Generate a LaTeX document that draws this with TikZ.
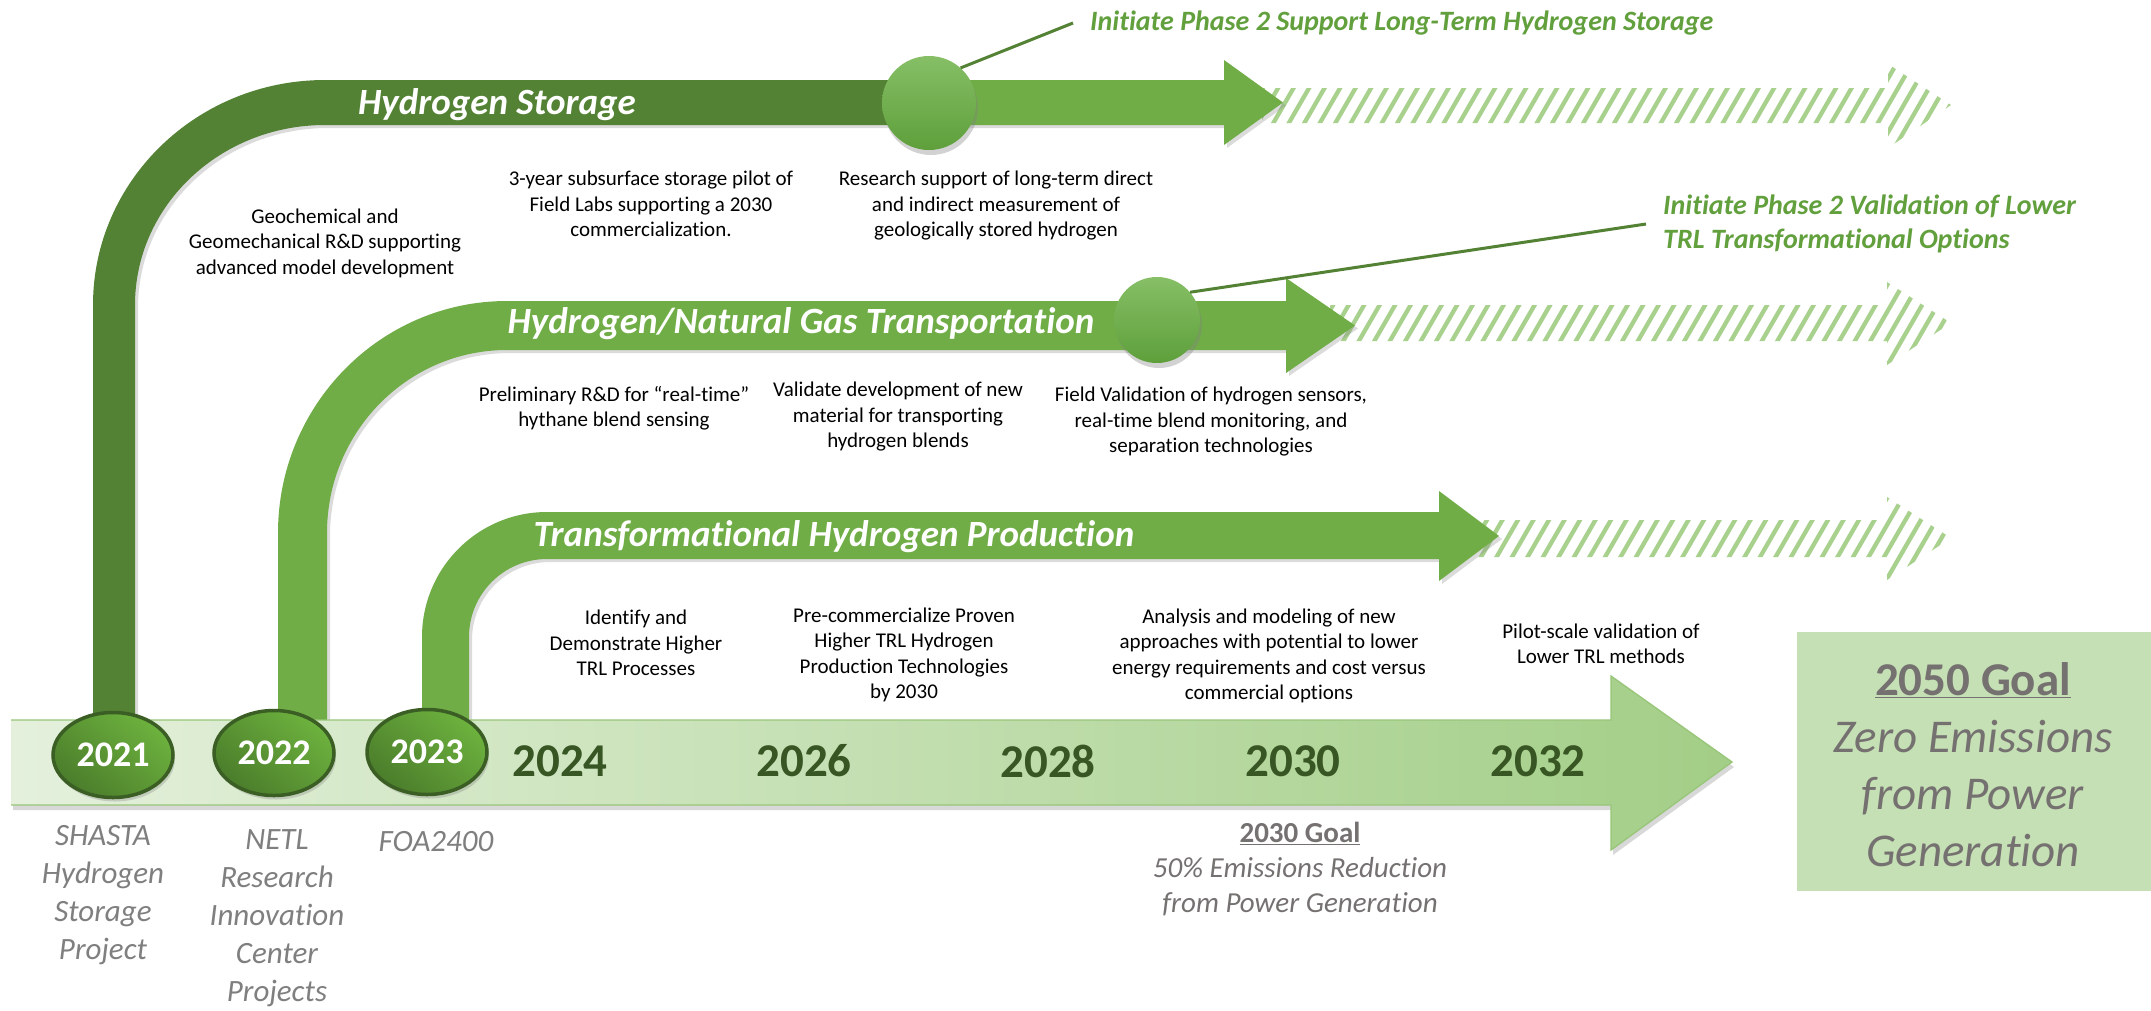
\documentclass[tikz,border=0pt]{standalone}
\usepackage{fontspec}
\setmainfont[Ligatures={NoCommon}]{Carlito}
\usetikzlibrary{shapes.geometric,shadows}
\definecolor{dkgreen}{HTML}{548235}
\definecolor{mdgreen}{HTML}{70AD47}
\definecolor{ltgreen}{HTML}{A9D18E}
\definecolor{yrgreen}{HTML}{375623}
\definecolor{boxgreen}{HTML}{C5E0B4}
\definecolor{goalgray}{HTML}{767171}
\definecolor{labgray}{HTML}{7F7F7F}
\definecolor{annogreen}{HTML}{62A03E}
\definecolor{circedge}{HTML}{3B5E25}
\definecolor{circtop}{HTML}{6DB23E}
\definecolor{circbot}{HTML}{4B7D2B}
\definecolor{mstop}{HTML}{86BF66}
\definecolor{msbot}{HTML}{5E9F3B}
\definecolor{barleft}{HTML}{E4F0DC}
\definecolor{barright}{HTML}{A3CE87}
\begin{document}
\begin{tikzpicture}[x=1pt,y=-1pt,
  bodytxt/.style={font=\fontsize{21}{25.5}\selectfont, align=center, inner sep=0pt, text=black},
  ttl/.style={font=\fontsize{37}{44}\selectfont\bfseries\itshape, text=white, inner sep=0pt},
  yearlab/.style={font=\fontsize{47}{56}\selectfont\bfseries, text=yrgreen, inner sep=0pt},
  yearcirc/.style={ellipse, minimum width=120pt, minimum height=85pt, inner sep=0pt, draw=circedge, line width=3.5pt, top color=circtop, bottom color=circbot, shading angle=-40, text=white, font=\fontsize{36}{40}\selectfont\bfseries, drop shadow={opacity=0.3, shadow xshift=2pt, shadow yshift=-4pt}},
  sublab/.style={font=\fontsize{31}{38}\selectfont\itshape, text=labgray, align=center, inner sep=0pt},
  annotxt/.style={font=\fontsize{28}{34}\selectfont\bfseries\itshape, text=annogreen, align=left, anchor=west, inner xsep=17pt, inner ysep=2pt},
  mstone/.style={circle, inner sep=0pt, top color=mstop, bottom color=msbot, drop shadow={opacity=0.35, shadow xshift=2pt, shadow yshift=-5pt}},
  armshadow/.style={drop shadow={opacity=0.28, shadow xshift=3pt, shadow yshift=-3pt}},
  hatchline/.style={draw=ltgreen, line width=4.3pt},
  annoline/.style={draw=dkgreen, line width=3pt}
]
\useasboundingbox (0,0) rectangle (2151,1010);
\fill[white] (0,0) rectangle (2151,1010);

% ---------- hatched continuation arrows ----------
\begin{scope}
\clip (1262,88) -- (1888,88) -- (1888,64) -- (1951,105) -- (1888,148) -- (1888,123) -- (1262,123) -- cycle;
\foreach \x in {1190,1205.5,...,1960} {\draw[hatchline] (\x,160) -- ++(60,-104);}
\end{scope}
\begin{scope}
\clip (1330,305) -- (1887,305) -- (1887,282) -- (1951,323) -- (1887,365) -- (1887,341) -- (1330,341) -- cycle;
\foreach \x in {1260,1275.5,...,1960} {\draw[hatchline] (\x,378) -- ++(60,-104);}
\end{scope}
\begin{scope}
\clip (1475,520) -- (1887,520) -- (1887,497) -- (1951,538) -- (1887,580) -- (1887,557) -- (1475,557) -- cycle;
\foreach \x in {1400,1415.5,...,1960} {\draw[hatchline] (\x,590) -- ++(60,-104);}
\end{scope}

% ---------- arms ----------
\fill[dkgreen, armshadow] (93,722) -- (93,305) .. controls (93,180.7) and (196.9,80) .. (325,80) -- (929,80) -- (929,125) -- (325,125) .. controls (220.1,125) and (135,205.6) .. (135,305) -- (135,722) -- cycle;
\fill[mdgreen, armshadow] (929,80) -- (1224,80) -- (1224,60) -- (1283,102.5) -- (1224,145) -- (1224,125) -- (929,125) -- cycle;
\fill[mdgreen, armshadow] (278,722) -- (278,533) .. controls (278,404.9) and (380.5,301) .. (507,301) -- (1286,301) -- (1286,278) -- (1355,325.5) -- (1286,373) -- (1286,350) -- (507,350) .. controls (407.6,350) and (327,431.9) .. (327,533) -- (327,722) -- cycle;
\fill[mdgreen, armshadow] (422,722) -- (422,637) .. controls (422,568) and (478,512) .. (547,512) -- (1439,512) -- (1439,491) -- (1499,536) -- (1439,581) -- (1439,559) -- (547,559) .. controls (503.9,559) and (469,593.9) .. (469,637) -- (469,722) -- cycle;

% ---------- timeline bar ----------
\path[left color=barleft, right color=barright, drop shadow={opacity=0.3, shadow xshift=2pt, shadow yshift=-5pt}]
  (11,720) -- (1611,720) -- (1611,676) -- (1732,762) -- (1611,850) -- (1611,805) -- (11,805) -- cycle;
\draw[ltgreen!70!mdgreen, line width=1.3pt, line join=miter]
  (11,720) -- (1611,720) -- (1611,676) -- (1732,762) -- (1611,850) -- (1611,805) -- (11,805);

% ---------- milestone circles on arms ----------
\node[mstone, minimum size=94pt] (ms1) at (929,103) {};
\node[mstone, minimum size=86pt] (ms2) at (1157,320) {};

% ---------- arm titles ----------
\node[ttl] (t1) at (497,105) {Hydrogen Storage};
\node[ttl] (t2) at (801,324) {Hydrogen/Natural Gas Transportation};
\node[ttl] (t3) at (834,537) {Transformational Hydrogen Production};

% ---------- annotations ----------
\node[annotxt] (an1) at (1073,23) {Initiate Phase 2 Support Long-Term Hydrogen Storage};
\node[annotxt] (an2) at (1646,224) {Initiate Phase 2 Validation of Lower\\TRL Transformational Options};
\draw[annoline] (ms1.48) -- (an1.west);
\draw[annoline] (ms2.40) -- (an2.west);

% ---------- body texts ----------
\node[bodytxt] (b1) at (325,243) {Geochemical and\\Geomechanical R\&D supporting\\advanced model development};
\node[bodytxt] (b2) at (651,204) {3-year subsurface storage pilot of\\Field Labs supporting a 2030\\commercialization.};
\node[bodytxt] (b3) at (996,206) {Research support of long-term direct\\and indirect measurement of\\geologically stored hydrogen};
\node[bodytxt] (b4) at (614,408) {Preliminary R\&D for “real-time”\\hythane blend sensing};
\node[bodytxt] (b5) at (898,417) {Validate development of new\\material for transporting\\hydrogen blends};
\node[bodytxt] (b6) at (1211,422) {Field Validation of hydrogen sensors,\\real-time blend monitoring, and\\separation technologies};
\node[bodytxt] (b7) at (636,643) {Identify and\\Demonstrate Higher\\TRL Processes};
\node[bodytxt] (b8) at (904,655) {Pre-commercialize Proven\\Higher TRL Hydrogen\\Production Technologies\\by 2030};
\node[bodytxt] (b9) at (1269,656) {Analysis and modeling of new\\approaches with potential to lower\\energy requirements and cost versus\\commercial options};
\node[bodytxt] (b10) at (1601,644) {Pilot-scale validation of\\Lower TRL methods};

% ---------- year circles ----------
\node[yearcirc] (c2021) at (113,755) {2021};
\node[yearcirc] (c2022) at (274,753) {2022};
\node[yearcirc] (c2023) at (427,752) {2023};

% ---------- year labels ----------
\node[yearlab] (y2024) at (560,761) {2024};
\node[yearlab] (y2026) at (804,761) {2026};
\node[yearlab] (y2028) at (1048,761) {2028};
\node[yearlab] (y2030) at (1293,761) {2030};
\node[yearlab] (y2032) at (1538,761) {2032};

% ---------- labels under circles ----------
\node[sublab] (l2021) at (103,895) {SHASTA\\Hydrogen\\Storage\\Project};
\node[sublab] (l2022) at (277,918) {NETL\\Research\\Innovation\\Center\\Projects};
\node[sublab] (l2023) at (436,842) {FOA2400};

% ---------- 2030 goal ----------
\node[align=center, inner sep=0pt, text=goalgray, font=\fontsize{29}{35}\selectfont] (g2030) at (1300,869)
  {\textbf{\underline{2030 Goal}}\\\textit{50\% Emissions Reduction}\\\textit{from Power Generation}};

% ---------- 2050 goal box ----------
\node[rectangle, fill=boxgreen, minimum width=354pt, minimum height=259pt, inner sep=0pt] (box2050) at (1974,761.5) {};
\node[align=center, inner sep=0pt, text=goalgray, font=\fontsize{47}{57}\selectfont] (g2050) at (1973,765)
  {\textbf{\underline{2050 Goal}}\\\textit{Zero Emissions}\\\textit{from Power}\\\textit{Generation}};
\end{tikzpicture}
\end{document}
